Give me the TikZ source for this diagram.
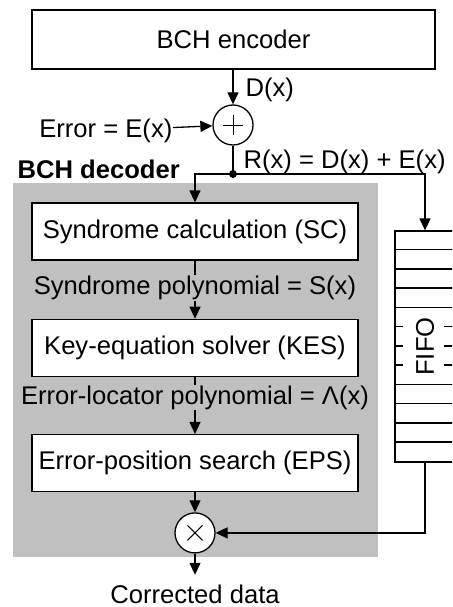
\documentclass[tikz,border=0pt]{standalone}
\usepackage{fontspec}
\setmainfont{Liberation Sans}
\usepackage{tikz}
\usetikzlibrary{arrows.meta, positioning}
\definecolor{decgray}{RGB}{192,192,192}

\begin{document}
\begin{tikzpicture}[
  x=1pt, y=-1pt,
  font=\fontsize{25.6}{30}\selectfont, line width=1.3pt, inner sep=0pt,
  box/.style={draw, fill=white, minimum width=326pt, minimum height=57pt, align=center},
  op/.style={draw, circle, fill=white, minimum size=40pt},
  lbl/.style={fill=decgray, inner sep=1pt},
  >={Triangle[length=12pt, width=11pt]}, node distance=58pt
]
\clip (0,0) rectangle (452,607);
\fill[decgray] (13,183) rectangle (378,557);

\node[box, minimum width=403pt, minimum height=59pt] (enc) at (233.5,39.5) {BCH encoder};
\node[op, path picture={\draw[line width=1pt] (path picture bounding box.center) +(-10,0) -- +(10,0) +(0,-10) -- +(0,10);}] (add) at (233,125) {};
\node[anchor=base east] (err) at (173,137) {Error = E(x)};
\node[anchor=base west] (dx) at (245,97) {D(x)};
\coordinate (split) at (233,174);
\node[anchor=base west] (rx) at (243,168) {R(x) = D(x) + E(x)};
\node[anchor=base west, font=\fontsize{25.6}{30}\selectfont\bfseries] (dec) at (17,178) {BCH decoder};

\node[box] (sc) at (195,231.5) {Syndrome calculation (SC)};
\node[box, below=of sc] (kes) {Key-equation solver (KES)};
\node[box, below=57pt of kes] (eps) {Error-position search (EPS)};
\node[op, below=20pt of eps, path picture={\draw[line width=1pt] (path picture bounding box.center) +(-7.5,-7.5) -- +(7.5,7.5) +(-7.5,7.5) -- +(7.5,-7.5);}] (mul) {};
\node[anchor=base, inner ysep=9pt] (out) at (195,603) {Corrected data};

\node[draw, minimum width=60pt, minimum height=231pt] (fifo) at (425,346.5) {};
\foreach \i in {1,2,3,4,8,9,10,11}
  \draw ([yshift=-19.25*\i pt]fifo.north west) -- ([yshift=-19.25*\i pt]fifo.north east);
\foreach \i in {5,6,7} {
  \draw ([yshift=-19.25*\i pt]fifo.north west) -- ++(9,0);
  \draw ([yshift=-19.25*\i pt]fifo.north east) -- ++(-12,0);
}
\node[rotate=90] (fifotext) at (fifo.center) {FIFO};

\draw[->] (enc.south -| add) -- (add);
\draw[->] (err) -- (add);
\draw (add) -- (split);
\fill (split) circle (4pt);
\draw[->] (split) -| (sc);
\draw[->] (split) -| (fifo);
\draw[->] (sc) -- node[lbl, pos=0.47] {Syndrome polynomial = S(x)} (kes);
\draw[->] (kes) -- node[lbl, pos=0.36] {Error-locator polynomial = Λ(x)} (eps);
\draw[->] (eps) -- (mul);
\draw[->] (fifo) |- (mul);
\draw[->] (mul) -- (out);
\end{tikzpicture}
\end{document}
